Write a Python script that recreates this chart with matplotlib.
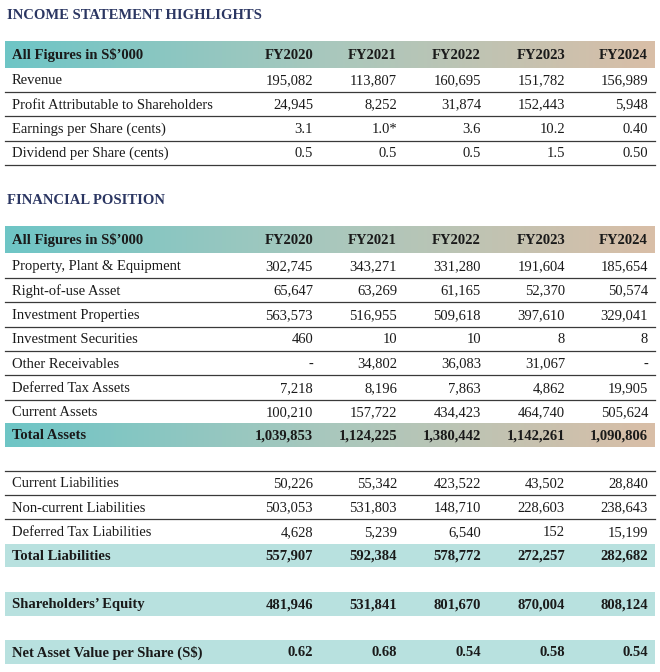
import numpy as np
import matplotlib.pyplot as plt
from matplotlib.colors import LinearSegmentedColormap

plt.rcParams['font.family'] = ['Liberation Serif', 'DejaVu Serif']

# ---- data ----
years = ['FY2020', 'FY2021', 'FY2022', 'FY2023', 'FY2024']
header_label = 'All Figures in S$\u2019000'

income_labels = ['Revenue', 'Profit Attributable to Shareholders',
                 'Earnings per Share (cents)', 'Dividend per Share (cents)']
income_values = [
    ['195,082', '113,807', '160,695', '151,782', '156,989'],
    ['24,945', '8,252', '31,874', '152,443', '5,948'],
    ['3.1', '1.0*', '3.6', '10.2', '0.40'],
    ['0.5', '0.5', '0.5', '1.5', '0.50'],
]

asset_labels = ['Property, Plant & Equipment', 'Right-of-use Asset',
                'Investment Properties', 'Investment Securities',
                'Other Receivables', 'Deferred Tax Assets', 'Current Assets']
asset_values = [
    ['302,745', '343,271', '331,280', '191,604', '185,654'],
    ['65,647', '63,269', '61,165', '52,370', '50,574'],
    ['563,573', '516,955', '509,618', '397,610', '329,041'],
    ['460', '10', '10', '8', '8'],
    ['-', '34,802', '36,083', '31,067', '-'],
    ['7,218', '8,196', '7,863', '4,862', '19,905'],
    ['100,210', '157,722', '434,423', '464,740', '505,624'],
]
total_assets = ['1,039,853', '1,124,225', '1,380,442', '1,142,261', '1,090,806']

liab_labels = ['Current Liabilities', 'Non-current Liabilities', 'Deferred Tax Liabilities']
liab_values = [
    ['50,226', '55,342', '423,522', '43,502', '28,840'],
    ['503,053', '531,803', '148,710', '228,603', '238,643'],
    ['4,628', '5,239', '6,540', '152', '15,199'],
]
total_liab = ['557,907', '592,384', '578,772', '272,257', '282,682']
equity = ['481,946', '531,841', '801,670', '870,004', '808,124']
nav = ['0.62', '0.68', '0.54', '0.58', '0.54']

# ---- layout (pixel units) ----
W, H = 660, 672
X0, X1 = 5, 655
LABEL_X = 12
COL_X = [313, 397, 481, 565, 648]
ROW_H = 24.3
FS = 10.5
TITLE_C = '#2b3662'
TEXT_C = '#1a1a1a'
LINE_C = '#3a3a3a'
FLAT_C = '#b8e1df'

grad = LinearSegmentedColormap.from_list('hdr', ['#6ec5c6', '#a9c8bd', '#d9bea7'])

fig = plt.figure(figsize=(W / 100, H / 100), dpi=100)
ax = fig.add_axes([0, 0, 1, 1])
ax.set_xlim(0, W)
ax.set_ylim(H, 0)
ax.axis('off')


def gradient_band(y0, y1):
    g = np.linspace(0, 1, 256).reshape(1, -1)
    ax.imshow(g, cmap=grad, extent=(X0, X1, y1, y0), aspect='auto', zorder=0)


def flat_band(y0, y1):
    ax.fill_between([X0, X1], y0, y1, color=FLAT_C, lw=0, zorder=0)


def row(y, label, vals, bold=False):
    w = 'bold' if bold else 'normal'
    y = y + 0.8
    ax.text(LABEL_X, y, label, fontsize=FS, fontweight=w, color=TEXT_C, va='center', ha='left')
    for x, v in zip(COL_X, vals):
        ax.text(x, y, v, fontsize=FS, fontweight=w, color=TEXT_C, va='center', ha='right')


def hline(y):
    ax.plot([X0, X1], [y, y], color=LINE_C, lw=0.9, zorder=1)


# income statement
ax.text(7, 15.5, 'INCOME STATEMENT HIGHLIGHTS', fontsize=FS, fontweight='bold',
        color=TITLE_C, va='center', ha='left')
gradient_band(41, 68)
row(54.5, header_label, years, bold=True)
y = 80
for lab, vals in zip(income_labels, income_values):
    row(y, lab, vals)
    hline(y + 12)
    y += ROW_H

# financial position
ax.text(7, 200.5, 'FINANCIAL POSITION', fontsize=FS, fontweight='bold',
        color=TITLE_C, va='center', ha='left')
gradient_band(226, 253)
row(239.5, header_label, years, bold=True)
y = 266
for i, (lab, vals) in enumerate(zip(asset_labels, asset_values)):
    row(y, lab, vals)
    if i < len(asset_labels) - 1:
        hline(y + 12)
    y += ROW_H
gradient_band(423, 447)
row(435, 'Total Assets', total_assets, bold=True)

hline(471)
y = 483
for i, (lab, vals) in enumerate(zip(liab_labels, liab_values)):
    row(y, lab, vals)
    if i < len(liab_labels) - 1:
        hline(y + 12)
    y += ROW_H
flat_band(544, 567)
row(555.5, 'Total Liabilities', total_liab, bold=True)

flat_band(592, 616)
row(604, 'Shareholders\u2019 Equity', equity, bold=True)

flat_band(640, 664)
row(652, 'Net Asset Value per Share (S$)', nav, bold=True)

fig.savefig('out.png', dpi=100, facecolor='white')
